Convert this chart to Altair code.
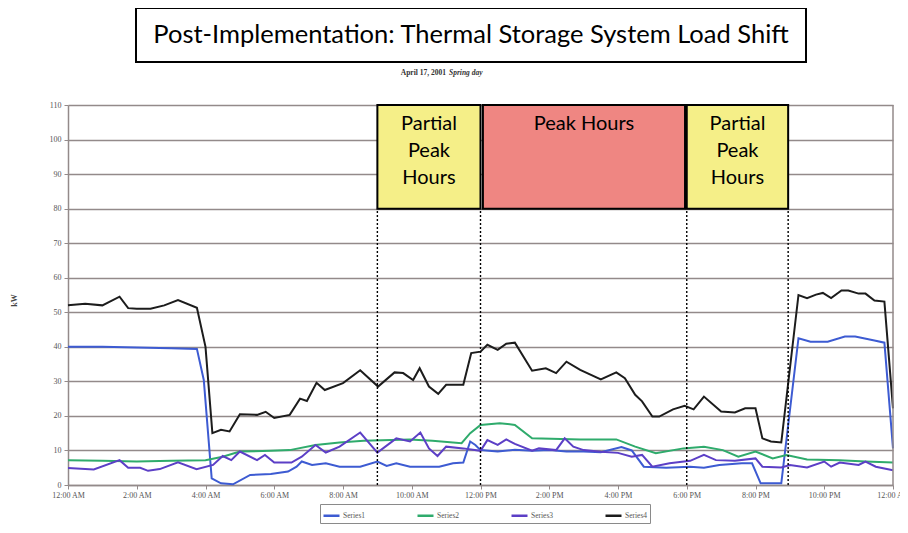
import altair as alt
import pandas as pd

# ---------------- data ----------------
SERIES = ["Series1", "Series2", "Series3", "Series4"]
COLORS = ["#3d5bd2", "#2fab6c", "#5c3fc6", "#1c1c1c"]

S1_HOURS = [0, 1, 2, 3, 3.75, 3.95, 4.18, 4.45, 4.8, 5.3, 5.9, 6.4, 6.65, 6.8, 7.1, 7.5, 7.9, 8.5,
            9.0, 9.27, 9.55, 9.95, 10.25, 10.8, 11.2, 11.5, 11.7, 11.85, 12.0, 12.5, 13.0, 13.5,
            14.0, 14.5, 15.0, 15.5, 16.1, 16.4, 16.75, 17.4, 18.1, 18.5, 18.95, 19.6, 19.9, 20.15,
            20.75, 21.25, 21.6, 22.1, 22.6, 22.9, 23.46, 23.75, 24.0]
S1_KW = [40, 40, 39.8, 39.6, 39.4, 30.4, 1.9, 0.5, 0.2, 2.9, 3.2, 3.9, 5.3, 6.8, 5.8, 6.3, 5.3, 5.3,
         6.8, 5.5, 6.3, 5.3, 5.3, 5.3, 6.3, 6.5, 12.6, 11.6, 10.1, 9.7, 10.2, 9.9,
         10.1, 9.7, 9.7, 9.5, 11.0, 10.0, 5.3, 5.0, 5.3, 5.0, 5.8, 6.3, 6.3, 0.5,
         0.5, 42.5, 41.5, 41.5, 43.0, 43.0, 41.8, 41.2, 10.6]

S2_HOURS = [0, 1, 2, 3, 4.0, 4.5, 5.0, 5.9, 6.45, 7.2, 7.9, 8.6, 9.94, 10.6, 11.45, 11.7, 12.0,
            12.56, 13.0, 13.5, 14.9, 15.95, 16.5, 17.1, 17.9, 18.5, 19.05, 19.5, 20.0, 20.5, 20.9,
            21.5, 22.45, 23.2, 24.0]
S2_KW = [7.2, 7.0, 6.8, 7.0, 7.2, 8.2, 9.7, 9.9, 10.1, 11.6, 12.3, 12.8, 13.2, 12.8, 12.1, 15.0, 17.4,
         17.9, 17.4, 13.5, 13.2, 13.2, 11.1, 9.2, 10.6, 11.1, 10.1, 8.2, 9.7, 7.7, 8.7,
         7.4, 7.2, 6.8, 6.5]

S3_HOURS = [0, 0.75, 1.5, 1.75, 2.1, 2.33, 2.67, 3.2, 3.74, 4.22, 4.5, 4.75, 5.0, 5.5, 5.73, 6.0,
            6.5, 6.8, 7.2, 7.5, 7.9, 8.5, 9.0, 9.55, 9.95, 10.25, 10.5, 10.75, 11.0, 11.5, 12.0,
            12.2, 12.5, 12.75, 13.0, 13.5, 13.7, 14.2, 14.45, 14.7, 15.0, 15.5, 16.0, 16.4, 16.7,
            17.0, 17.5, 18.1, 18.5, 18.85, 19.4, 20.0, 20.2, 20.75, 21.0, 21.5, 22.0, 22.2, 22.45,
            23.0, 23.2, 23.5, 24.0]
S3_KW = [4.9, 4.5, 7.2, 5.0, 5.0, 4.1, 4.6, 6.6, 4.6, 5.8, 8.4, 7.2, 9.7, 7.2, 8.7, 6.5,
         6.5, 8.2, 11.6, 9.4, 11.1, 15.2, 9.4, 13.5, 12.6, 15.2, 10.6, 8.4, 11.1, 10.6, 9.9,
         13.0, 11.6, 13.2, 11.9, 9.9, 10.6, 10.1, 13.5, 11.1, 10.1, 9.6, 9.3, 8.2, 8.7,
         5.3, 6.3, 7.0, 8.7, 7.2, 7.0, 7.7, 5.3, 5.1, 5.8, 5.1, 6.8, 5.3, 6.5,
         5.8, 6.8, 5.3, 4.3]

S4_HOURS = [0, 0.5, 1.0, 1.5, 1.75, 2.0, 2.4, 2.8, 3.2, 3.75, 4.0, 4.2, 4.45, 4.7, 5.0, 5.5, 5.75,
            6.0, 6.45, 6.75, 6.95, 7.23, 7.47, 8.0, 8.5, 9.02, 9.5, 9.75, 10.04, 10.23, 10.5, 10.77,
            11.0, 11.5, 11.73, 12.0, 12.2, 12.5, 12.75, 13.0, 13.5, 13.9, 14.2, 14.5, 14.9, 15.5,
            15.95, 16.2, 16.5, 16.7, 17.0, 17.2, 17.6, 17.94, 18.2, 18.5, 19.0, 19.4, 19.7, 20.0,
            20.2, 20.45, 20.75, 21.25, 21.5, 21.76, 21.96, 22.2, 22.5, 22.7, 23.0, 23.2, 23.46,
            23.75, 24.0]
S4_KW = [52, 52.5, 52, 54.5, 51.2, 51, 51, 52, 53.5, 51.3, 40, 15, 16, 15.5, 20.5, 20.3, 21.2,
         19.4, 20.3, 25.0, 24.3, 29.6, 27.5, 29.5, 33.2, 28.5, 32.6, 32.4, 30.4, 33.8, 28.5, 26.4,
         29.0, 29.0, 38.2, 38.6, 40.6, 39.1, 40.9, 41.2, 33.1, 33.8, 32.4, 35.7, 33.3, 30.6,
         32.6, 30.9, 26.1, 24.2, 19.8, 19.8, 21.9, 22.9, 21.9, 25.6, 21.3, 21.0, 22.2, 22.2,
         13.5, 12.6, 12.3, 55.0, 54.1, 55.1, 55.6, 54.1, 56.3, 56.3, 55.4, 55.4, 53.4,
         53.1, 22.2]

PERIOD_START = [9.0, 12.07, 18.0]
PERIOD_END = [12.0, 17.95, 20.95]
PERIOD_LABEL = ["Partial\nPeak\nHours", "Peak Hours", "Partial\nPeak\nHours"]
PERIOD_KIND = ["partial", "peak", "partial2"]
PERIOD_FILL = ["#f5ef88", "#ef8682", "#f5ef88"]
BOX_LOW, BOX_HIGH = 80, 110
DIVIDERS = [9.0, 12.0, 18.0, 20.95]

Y_TICKS = list(range(0, 111, 10))
X_TICKS = list(range(0, 25, 2))

TITLE = "Post-Implementation:  Thermal Storage System Load Shift"
SUB_A = "April 17, 2001"
SUB_B = "Spring day"

# ---------------- tables ----------------
rows = []
for name, hs, vs in zip(SERIES, [S1_HOURS, S2_HOURS, S3_HOURS, S4_HOURS],
                        [S1_KW, S2_KW, S3_KW, S4_KW]):
    for h, v in zip(hs, vs):
        rows.append({"series": name, "hour": h, "kw": v})
df = pd.DataFrame(rows)

periods = pd.DataFrame({
    "start": PERIOD_START, "end": PERIOD_END, "label": PERIOD_LABEL,
    "kind": PERIOD_KIND, "low": BOX_LOW, "high": BOX_HIGH,
})
periods["mid"] = (periods["start"] + periods["end"]) / 2
dividers = pd.DataFrame({"hour": DIVIDERS, "low": 0, "high": BOX_LOW})

GRID = "#938a8a"
xs = alt.Scale(domain=[0, 24], nice=False, zero=False)
ys = alt.Scale(domain=[0, 110], nice=False)

label_expr = ("(datum.value % 12 == 0 ? 12 : datum.value % 12) + ':00 ' + "
              "((datum.value % 24) < 12 ? 'AM' : 'PM')")

x_axis = alt.Axis(values=X_TICKS, grid=False, labelExpr=label_expr, domainColor=GRID,
                  domainWidth=1.5, tickColor=GRID, tickSize=4, labelFont="Liberation Serif",
                  labelFontSize=8, labelColor="#555555", labelPadding=2, labelOverlap=False,
                  labelBound=False, labelFlush=False, title=None)
y_axis = alt.Axis(values=Y_TICKS, grid=True, gridColor=GRID, gridWidth=1.7, domainColor=GRID,
                  domainWidth=1.5, tickColor=GRID, tickSize=4, labelFont="Liberation Serif",
                  labelFontSize=8, labelColor="#555555", labelPadding=3, labelOverlap=False,
                  title="kW", titleFont="Liberation Serif", titleFontSize=8,
                  titleFontWeight="bold", titleColor="#444444", titleX=-50, titleY=195)


def X(field):
    return alt.X(field, type="quantitative", scale=xs, axis=x_axis)


def Y(field):
    return alt.Y(field, type="quantitative", scale=ys, axis=y_axis)


base_lines = alt.Chart(df).mark_line(strokeWidth=2).encode(
    x=X("hour"),
    y=Y("kw"),
    color=alt.Color("series:N", scale=alt.Scale(domain=SERIES, range=COLORS),
                    legend=alt.Legend(orient="none", legendX=252, legendY=399,
                                      direction="horizontal", title=None,
                                      symbolType="stroke", symbolSize=256,
                                      symbolStrokeWidth=2.5, labelFont="Liberation Serif",
                                      labelFontSize=7.5, labelColor="#555555",
                                      columnPadding=46, padding=2, strokeColor="#8a8a8a",
                                      fillColor="white", labelOffset=2)),
)

boxes = alt.Chart(periods).mark_rect(stroke="black", strokeWidth=2).encode(
    x=X("start"), x2="end:Q",
    y=Y("low"), y2="high:Q",
    fill=alt.Fill("kind:N", scale=alt.Scale(domain=PERIOD_KIND, range=PERIOD_FILL), legend=None),
)

box_text = alt.Chart(periods).mark_text(
    lineBreak="\n", baseline="top", align="center", font="Lato", fontSize=20,
    lineHeight=27, dy=9, color="black"
).encode(
    x=X("mid"), y=Y("high"), text="label:N"
)

divider_rules = alt.Chart(dividers).mark_rule(color="black", strokeWidth=1.4,
                                               strokeDash=[2, 2]).encode(
    x=X("hour"), y=Y("low"), y2="high:Q"
)

right_edge = alt.Chart(pd.DataFrame({"hour": [24], "low": [0], "high": [110]})).mark_rule(
    color=GRID, strokeWidth=1.5).encode(
    x=X("hour"), y=Y("low"), y2="high:Q"
)

title_box = alt.Chart(pd.DataFrame({"t": [TITLE]})).mark_rect(
    fill="white", stroke="black", strokeWidth=2).encode(
    x=alt.value(68), x2=alt.value(738), y=alt.value(-97), y2=alt.value(-43)
)
title_text = alt.Chart(pd.DataFrame({"t": [TITLE]})).mark_text(
    font="Lato", fontSize=25.5, align="center", baseline="middle", color="black").encode(
    x=alt.value(403), y=alt.value(-70), text="t:N"
)
sub_a = alt.Chart(pd.DataFrame({"t": [SUB_A]})).mark_text(
    font="Liberation Serif", fontSize=7.5, fontWeight="bold", align="right",
    baseline="middle", color="#333333").encode(
    x=alt.value(378), y=alt.value(-32), text="t:N"
)
sub_b = alt.Chart(pd.DataFrame({"t": [SUB_B]})).mark_text(
    font="Liberation Serif", fontSize=7.5, fontWeight="bold", fontStyle="italic",
    align="left", baseline="middle", color="#333333").encode(
    x=alt.value(381), y=alt.value(-32), text="t:N"
)

chart = alt.layer(
    base_lines, right_edge, divider_rules, boxes, box_text,
    title_box, title_text, sub_a, sub_b
).properties(
    width=825, height=380,
    autosize=alt.AutoSizeParams(type="none"),
    padding={"left": 60, "top": 97, "right": 7, "bottom": 40},
).configure_view(stroke=None).resolve_scale(color="independent")

chart.save("out.html", embed_options={"renderer": "svg", "actions": False})
